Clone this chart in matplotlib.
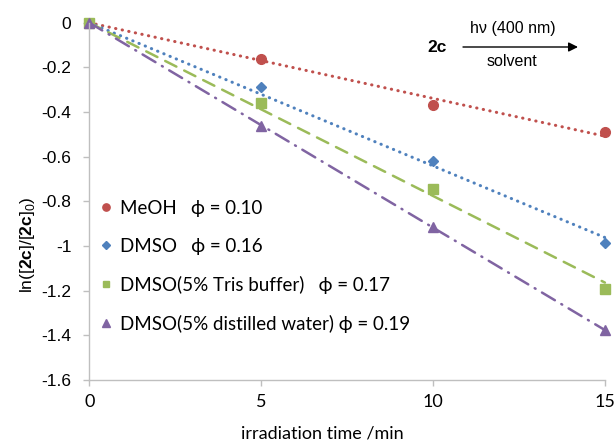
import numpy as np
import matplotlib
matplotlib.use('Agg')
import matplotlib.pyplot as plt

plt.rcParams['mathtext.fontset'] = 'custom'
plt.rcParams['mathtext.rm'] = 'Liberation Sans'
plt.rcParams['mathtext.bf'] = 'Liberation Sans:bold'

time_min = [0, 5, 10, 15]
meoh = [0, -0.163, -0.369, -0.490]
dmso = [0, -0.288, -0.619, -0.987]
tris = [0, -0.360, -0.745, -1.193]
water = [0, -0.463, -0.915, -1.376]

labels = [
    'MeOH   \u03d5 = 0.10',
    'DMSO   \u03d5 = 0.16',
    'DMSO(5% Tris buffer)   \u03d5 = 0.17',
    'DMSO(5% distilled water) \u03d5 = 0.19',
]
colors = ['#C0504D', '#4F81BD', '#9BBB59', '#8064A2']
markers = ['o', 'D', 's', '^']
msizes = [7, 5.5, 6.5, 7.5]
widths = [2.2, 2.2, 1.8, 1.8]
styles = [(0, (0.1, 2.1)), (0, (0.1, 2.1)), (0, (5, 3.5)), (0, (6, 3, 0.4, 3))]

GREEK = ['Lato', 'DejaVu Sans']


def main():
    fig = plt.figure(figsize=(6.16, 4.42), dpi=100)
    ax = fig.add_axes([0.145, 0.140, 0.837, 0.8086])

    x = np.array(time_min, dtype=float)
    handles = []
    for ys, c, m, ms, lw, ls, lab in zip([meoh, dmso, tris, water], colors,
                                         markers, msizes, widths, styles,
                                         labels):
        ys = np.array(ys)
        # trend line through the origin, like the spreadsheet's linear fit
        k = np.sum(x * ys) / np.sum(x * x)
        xx = np.array([0, 15])
        ax.plot(xx, k * xx, color=c, lw=lw, linestyle=ls,
                dash_capstyle='round', clip_on=False)
        h, = ax.plot(x, ys, linestyle='none', marker=m, color=c,
                     markersize=ms, clip_on=False, label=lab)
        handles.append(h)

    ax.set_xlim(0, 15)
    ax.set_ylim(-1.6, 0)
    ax.set_xticks([0, 5, 10, 15])
    ax.set_yticks(np.arange(-1.6, 0.01, 0.2))
    ax.set_yticklabels(['-1.6', '-1.4', '-1.2', '-1', '-0.8', '-0.6', '-0.4',
                        '-0.2', '0'], family='Liberation Sans', fontsize=12.5)
    ax.set_xticklabels(['0', '5', '10', '15'], family='Lato', fontsize=13)

    for s in ['top', 'right']:
        ax.spines[s].set_visible(False)
    for s in ['left', 'bottom']:
        ax.spines[s].set_color('#BFBFBF')
        ax.spines[s].set_linewidth(1.0)
    ax.tick_params(axis='both', direction='out', color='#BFBFBF', length=4,
                   width=1.0, labelcolor='black')
    ax.tick_params(axis='y', pad=9)
    ax.tick_params(axis='x', pad=6)

    ax.set_ylabel(r'ln([$\mathbf{2c}$]/[$\mathbf{2c}$]$_0$)',
                  family='Liberation Sans', fontsize=12.5, va='center')
    ax.yaxis.set_label_coords(-0.119, 0.378)
    ax.set_xlabel('irradiation time /min', family='Lato', fontsize=13,
                  va='center')
    ax.xaxis.set_label_coords(0.451, -0.148)

    ax.legend(handles=handles, loc='upper left',
              bbox_to_anchor=(0.0, 0.536), frameon=False,
              handlelength=0.6, handletextpad=0.45, labelspacing=1.12,
              borderaxespad=0.2, markerscale=0.75,
              prop={'family': GREEK, 'size': 13.5})

    # reaction scheme in the top right corner
    fig.text(437 / 616, 1 - 48 / 442, '2c', family='Liberation Sans',
             weight='bold', fontsize=12.5, ha='center', va='center')
    fig.text(513 / 616, 1 - 28 / 442, 'h\u03bd (400 nm)',
             family='Liberation Sans', fontsize=11.5, ha='center', va='center')
    fig.text(512 / 616, 1 - 62 / 442, 'solvent', family='Liberation Sans',
             fontsize=11.5, ha='center', va='center')
    ax.annotate('', xy=(578 / 616, 1 - 47 / 442),
                xytext=(463 / 616, 1 - 47 / 442),
                xycoords='figure fraction', textcoords='figure fraction',
                arrowprops=dict(arrowstyle='-|>', color='black', lw=1.0,
                                mutation_scale=14, shrinkA=0, shrinkB=0))

    fig.savefig('out.png', dpi=100)


if __name__ == '__main__':
    main()
